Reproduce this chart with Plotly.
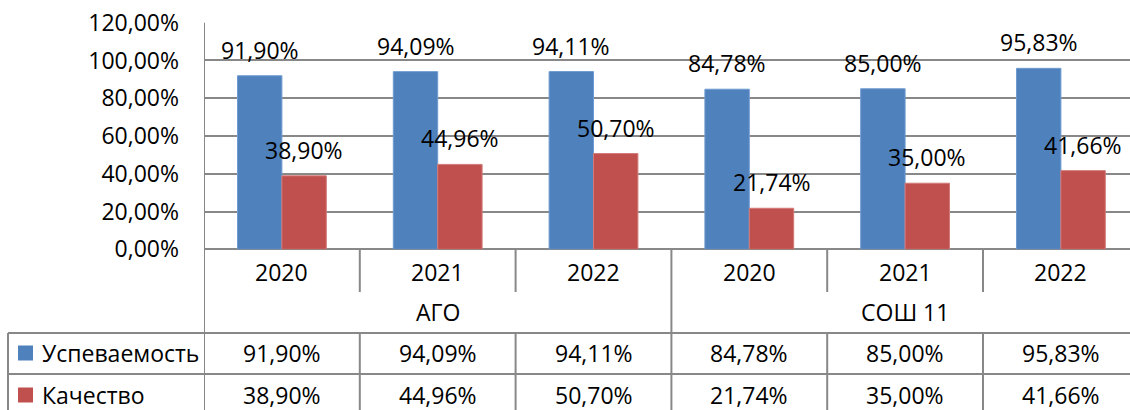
import plotly.graph_objects as go

# ---- data ----
years = ["2020", "2021", "2022", "2020", "2021", "2022"]
groups = ["АГО", "СОШ 11"]
series_names = ["Успеваемость", "Качество"]
uspevaemost = [91.90, 94.09, 94.11, 84.78, 85.00, 95.83]
kachestvo = [38.90, 44.96, 50.70, 21.74, 35.00, 41.66]
y_ticks = [0, 20, 40, 60, 80, 100, 120]

colors = ["#4F81BD", "#C0504D"]
edge_colors = ["#6E9BD1", "#D27A78"]
LINE = "#888888"
FONT = "Open Sans"
FS = 23
W, H = 1130, 410


def fmt(v):
    return f"{v:.2f}".replace(".", ",") + "%"


def py(px):  # pixel row -> paper y
    return 1 - px / H


def pxx(px):
    return px / W


xs = list(range(len(years)))
bargap = 0.43
off = (1 - bargap) / 4

fig = go.Figure()
for name, vals, col, ecol in zip(series_names, [uspevaemost, kachestvo], colors, edge_colors):
    fig.add_trace(go.Bar(x=xs, y=vals, name=name, marker=dict(color=col, line=dict(color=ecol, width=1)),
                         showlegend=False, hoverinfo="skip"))

ann = []
# data labels
for k, vals in enumerate([uspevaemost, kachestvo]):
    for i, v in enumerate(vals):
        ann.append(dict(x=i + (-off if k == 0 else off), y=v, xref="x", yref="y", text=fmt(v),
                        showarrow=False, yanchor="middle", yshift=26,
                        font=dict(family=FONT, size=FS, color="black")))
# year row
for i, yr in enumerate(years):
    ann.append(dict(x=i, y=py(272), xref="x", yref="paper", text=yr, showarrow=False,
                    yanchor="middle", font=dict(family=FONT, size=FS, color="black")))
# group row
for g, gname in enumerate(groups):
    ann.append(dict(x=1 + 3 * g, y=py(312), xref="x", yref="paper", text=gname, showarrow=False,
                    yanchor="middle", font=dict(family=FONT, size=FS, color="black")))
# data table
row_y = [353, 395]
for k, (name, vals) in enumerate(zip(series_names, [uspevaemost, kachestvo])):
    ann.append(dict(x=pxx(40), y=py(row_y[k]), xref="paper", yref="paper", text=name, showarrow=False,
                    xanchor="left", yanchor="middle", font=dict(family=FONT, size=FS, color="black")))
    for i, v in enumerate(vals):
        ann.append(dict(x=i, y=py(row_y[k]), xref="x", yref="paper", text=fmt(v), showarrow=False,
                        yanchor="middle", font=dict(family=FONT, size=FS, color="black")))

shapes = []
ln = dict(color=LINE, width=2)
# left axis line of chart + table
shapes.append(dict(type="line", xref="x", yref="paper", x0=-0.5, x1=-0.5, y0=py(22.7), y1=py(415), line=ln))
# year separators
for i in range(len(years) - 1):
    b = i + 0.5
    bottom = 415 if b == 2.5 else 292
    shapes.append(dict(type="line", xref="x", yref="paper", x0=b, x1=b, y0=py(249.3), y1=py(bottom), line=ln))
    if b != 2.5:
        shapes.append(dict(type="line", xref="x", yref="paper", x0=b, x1=b, y0=py(333), y1=py(415), line=ln))
# table horizontal lines
for yy in [333, 374]:
    shapes.append(dict(type="line", xref="paper", yref="paper", x0=pxx(8), x1=1, y0=py(yy), y1=py(yy), line=ln))
# table left border
shapes.append(dict(type="line", xref="paper", yref="paper", x0=pxx(8), x1=pxx(8), y0=py(333), y1=py(415), line=ln))
# legend keys
for k, col in enumerate(colors):
    yc = row_y[k]
    shapes.append(dict(type="rect", xref="paper", yref="paper", x0=pxx(18), x1=pxx(33),
                       y0=py(yc - 7.5), y1=py(yc + 7.5), fillcolor=col, line=dict(width=0)))

col_w = (983 - 204) / 5
fig.update_layout(
    template="none",
    width=W, height=H, autosize=False,
    margin=dict(l=0, r=0, t=0, b=0, pad=0),
    paper_bgcolor="white", plot_bgcolor="white",
    barmode="group", bargap=bargap, bargroupgap=0,
    annotations=ann, shapes=shapes,
    xaxis=dict(domain=[204 / W, 1], range=[-0.5, -0.5 + (W - 204) / col_w], automargin=False,
               showticklabels=False, showgrid=False, zeroline=False, showline=False, ticks=""),
    yaxis=dict(domain=[py(249.3), py(22.7)], range=[0, 120], automargin=False,
               tickvals=y_ticks, ticktext=[fmt(t) for t in y_ticks],
               showgrid=True, gridcolor=LINE, gridwidth=2,
               zeroline=True, zerolinecolor=LINE, zerolinewidth=2, showline=False, ticks="",
               ticklabelstandoff=24,
               tickfont=dict(family=FONT, size=FS, color="black")),
)

fig.write_html("out.html", config={"displayModeBar": False},
               post_script="document.body.style.margin='0px';document.body.style.overflow='hidden';")
